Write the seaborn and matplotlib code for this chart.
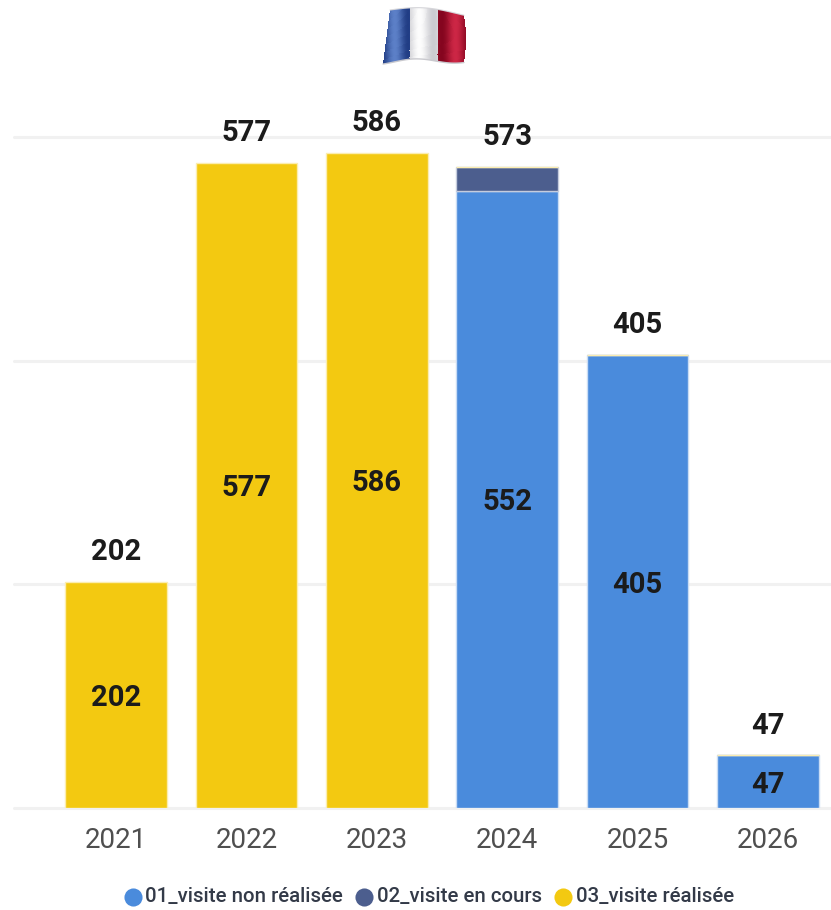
import numpy as np
import pandas as pd
import matplotlib
matplotlib.use("Agg")
import matplotlib.pyplot as plt
import seaborn as sns

years = ["2021", "2022", "2023", "2024", "2025", "2026"]
non_realisee = [0, 0, 0, 552, 405, 47]
en_cours = [0, 0, 0, 21, 0, 0]
realisee = [202, 577, 586, 0, 0, 0]
totals = [202, 577, 586, 573, 405, 47]
series_names = ["01_visite non réalisée", "02_visite en cours", "03_visite réalisée"]
series_colors = ["#4A8BDC", "#4C5E8E", "#F3C911"]
edge_colors = ["#C9DCF4", "#C5CCDD", "#FBEDB0"]

sns.set_theme(style="white")
plt.rcParams["font.family"] = ["Roboto", "DejaVu Sans"]

W, H = 831, 910
fig = plt.figure(figsize=(W / 100, H / 100), dpi=100, facecolor="white")
ax_left, ax_right, ax_bottom, ax_top = 14, 831, 808, 100
ax = fig.add_axes([ax_left / W, 1 - ax_bottom / H, (ax_right - ax_left) / W, (ax_bottom - ax_top) / H])

bottom = np.zeros(len(years))
for vals, name, col, ec in zip([non_realisee, en_cours, realisee], series_names, series_colors, edge_colors):
    df = pd.DataFrame({"year": years, "value": vals})
    sns.barplot(data=df, x="year", y="value", color=col, width=0.78, saturation=1,
                bottom=bottom, ax=ax, zorder=3, linewidth=1.0, edgecolor=ec, errorbar=None)
    bottom = bottom + np.array(vals)

ax.set_xlim(-0.782, 5.483)
ax.set_ylim(0, (ax_bottom - ax_top) / 1.1183)
ax.set_yticks([0, 200, 400, 600])
ax.yaxis.grid(True, color="#F1F1F1", linewidth=2.2, zorder=0, clip_on=False)
ax.set_axisbelow(True)
ax.set_xlabel("")
ax.set_ylabel("")
ax.tick_params(axis="y", left=False, labelleft=False)
ax.tick_params(axis="x", bottom=False, pad=7.5, labelsize=20, labelcolor="#4F4F4F")
sns.despine(ax=ax, left=True, bottom=True, top=True, right=True)

label_kw = dict(ha="center", va="center", fontsize=21, fontweight="bold", color="#1B1B1B", zorder=5)
for i, tot in enumerate(totals):
    ax.annotate(str(tot), (i, tot), xytext=(0, 21.5), textcoords="offset points", **label_kw)
    seg = max(non_realisee[i], realisee[i])
    ax.annotate(str(seg), (i, seg / 2), xytext=(0, -2.2), textcoords="offset points", **label_kw)

# legend
overlay = fig.add_axes([0, 0, 1, 1], zorder=10)
overlay.set_xlim(0, W)
overlay.set_ylim(H, 0)
overlay.axis("off")
for x, tx, name, col in zip([133, 364, 563], [145, 377, 576], series_names, series_colors):
    overlay.scatter([x], [897], s=170, color=col, linewidths=0)
    overlay.text(tx, 897, name, ha="left", va="center", fontsize=14.7, color="#333A48", fontweight="medium")

# waving flag illustration
nu, nv = 84, 56
u = np.linspace(0, 1, nu)
v = np.linspace(0, 1, nv)
U, V = np.meshgrid(u, v)
top_edge = 10 - 4 * np.sin(np.pi * u * 1.1) + 4 * u
bot_edge = 62 - 2.5 * np.sin(2 * np.pi * (u - 0.15)) - 1.5 * u
left_edge = 390 - 7 * V
right_edge = 464 + 2 * np.sin(np.pi * V)
X = left_edge + (right_edge - left_edge) * U
Y = top_edge[None, :] + (bot_edge - top_edge)[None, :] * V
Xm = 0.25 * (X[:-1, :-1] + X[1:, :-1] + X[:-1, 1:] + X[1:, 1:])
Vm = 0.5 * (V[:-1, :-1] + V[1:, :-1])


def band(x0, x1, low, high, phase):
    t = (Xm - x0) / (x1 - x0)
    s = 0.5 + 0.5 * np.sin(2 * np.pi * t + phase)
    return s[..., None] * np.array(high) + (1 - s[..., None]) * np.array(low)


blue = band(383, 410, (0.13, 0.24, 0.52), (0.36, 0.50, 0.78), -1.2)
white = band(410, 438, (0.80, 0.80, 0.82), (0.99, 0.99, 0.99), -0.6)
red = band(438, 466, (0.52, 0.02, 0.12), (0.80, 0.15, 0.27), -2.4)
rgb = np.where((Xm < 410)[..., None], blue, np.where((Xm < 438)[..., None], white, red))
overlay.pcolormesh(X, Y, rgb, shading="flat", rasterized=True)
overlay.plot(X[-1], Y[-1], color="#C9C9CE", linewidth=1)
overlay.plot(X[0], Y[0], color="#D6D6DA", linewidth=0.8)

fig.savefig("out.png", dpi=100, facecolor="white")
